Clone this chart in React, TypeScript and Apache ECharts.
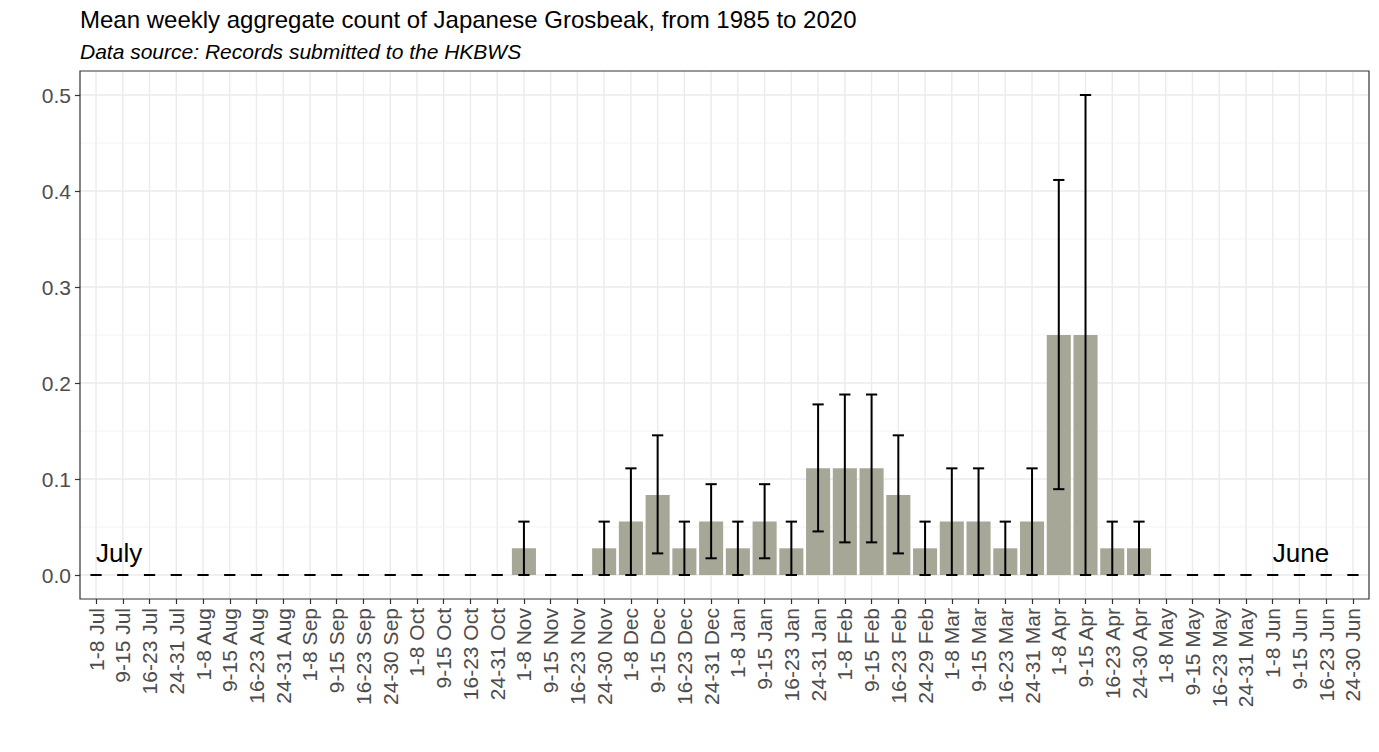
import React, { useEffect, useRef } from "react";
import * as echarts from "echarts";

const weeks = [
  "1-8 Jul", "9-15 Jul", "16-23 Jul", "24-31 Jul",
  "1-8 Aug", "9-15 Aug", "16-23 Aug", "24-31 Aug",
  "1-8 Sep", "9-15 Sep", "16-23 Sep", "24-30 Sep",
  "1-8 Oct", "9-15 Oct", "16-23 Oct", "24-31 Oct",
  "1-8 Nov", "9-15 Nov", "16-23 Nov", "24-30 Nov",
  "1-8 Dec", "9-15 Dec", "16-23 Dec", "24-31 Dec",
  "1-8 Jan", "9-15 Jan", "16-23 Jan", "24-31 Jan",
  "1-8 Feb", "9-15 Feb", "16-23 Feb", "24-29 Feb",
  "1-8 Mar", "9-15 Mar", "16-23 Mar", "24-31 Mar",
  "1-8 Apr", "9-15 Apr", "16-23 Apr", "24-30 Apr",
  "1-8 May", "9-15 May", "16-23 May", "24-31 May",
  "1-8 Jun", "9-15 Jun", "16-23 Jun", "24-30 Jun",
];

const means = [
  0, 0, 0, 0, 0, 0, 0, 0, 0, 0, 0, 0, 0, 0, 0, 0,
  0.0278, 0, 0, 0.0278,
  0.0556, 0.0833, 0.0278, 0.0556,
  0.0278, 0.0556, 0.0278, 0.1111,
  0.1111, 0.1111, 0.0833, 0.0278,
  0.0556, 0.0556, 0.0278, 0.0556,
  0.25, 0.25, 0.0278, 0.0278,
  0, 0, 0, 0, 0, 0, 0, 0,
];

const lower = [
  0, 0, 0, 0, 0, 0, 0, 0, 0, 0, 0, 0, 0, 0, 0, 0,
  0, 0, 0, 0,
  0, 0.0225, 0, 0.0174,
  0, 0.0174, 0, 0.0454,
  0.034, 0.034, 0.0225, 0,
  0, 0, 0, 0,
  0.0894, 0, 0, 0,
  0, 0, 0, 0, 0, 0, 0, 0,
];

const upper = [
  0, 0, 0, 0, 0, 0, 0, 0, 0, 0, 0, 0, 0, 0, 0, 0,
  0.0556, 0, 0, 0.0556,
  0.1111, 0.1455, 0.0556, 0.0946,
  0.0556, 0.0946, 0.0556, 0.1777,
  0.188, 0.188, 0.1455, 0.0556,
  0.1111, 0.1111, 0.0556, 0.1111,
  0.4115, 0.5, 0.0556, 0.0556,
  0, 0, 0, 0, 0, 0, 0, 0,
];

const yTicks = [0, 0.1, 0.2, 0.3, 0.4, 0.5];
const yMinor = [0.05, 0.15, 0.25, 0.35, 0.45];
const monthNotes = [
  { idx: 0, y: 0.023, text: "July" },
  { idx: 44, y: 0.023, text: "June" },
];

const TITLE = "Mean weekly aggregate count of Japanese Grosbeak, from 1985 to 2020";
const SUBTITLE = "Data source: Records submitted to the HKBWS";

const FONT = "'Liberation Sans', Arial, sans-serif";
const X_MIN = -0.6;
const X_MAX = weeks.length - 1 + 0.6;
const Y_MIN = -0.025;
const Y_MAX = 0.525;

export default function App() {
  const ref = useRef<HTMLDivElement>(null);

  useEffect(() => {
    const chart = echarts.init(ref.current!, null, { renderer: "svg" });
    const xIdx = weeks.map((_, i) => i);

    const gridData: number[][] = [
      ...xIdx.map((i) => [i, 0, 0]),
      ...yTicks.map((v) => [0, v, 1]),
      ...yMinor.map((v) => [0, v, 2]),
    ];

    const option: any = {
      animation: false,
      backgroundColor: "#ffffff",
      grid: { left: 80, top: 71, right: 10, bottom: 153, containLabel: false },
      graphic: [
        {
          type: "text",
          x: 80,
          y: 19.5,
          style: { text: TITLE, fontSize: 24, fontFamily: FONT, fill: "#000000", align: "left", verticalAlign: "middle" },
        },
        {
          type: "text",
          x: 80,
          y: 51.5,
          style: { text: SUBTITLE, fontSize: 21, fontStyle: "italic", fontFamily: FONT, fill: "#000000", align: "left", verticalAlign: "middle" },
        },
        {
          type: "rect",
          z: 100,
          shape: { x: 80, y: 71, width: 1289, height: 528 },
          style: { fill: "none", stroke: "#333333", lineWidth: 1.2 },
        },
      ],
      xAxis: {
        type: "value",
        min: X_MIN,
        max: X_MAX,
        axisLine: { show: false, onZero: false },
        splitLine: { show: false },
        axisTick: { show: true, customValues: xIdx, length: 5, lineStyle: { color: "#333333", width: 1.2 } },
        axisLabel: {
          customValues: xIdx,
          rotate: 90,
          margin: 9,
          fontSize: 21,
          fontFamily: FONT,
          color: "#4d4d4d",
          formatter: (v: number) => weeks[Math.round(v)] ?? "",
        },
      },
      yAxis: {
        type: "value",
        min: Y_MIN,
        max: Y_MAX,
        axisLine: { show: false, onZero: false },
        splitLine: { show: false },
        axisTick: { show: true, customValues: yTicks, length: 5, lineStyle: { color: "#333333", width: 1.2 } },
        axisLabel: {
          customValues: yTicks,
          margin: 9,
          fontSize: 21,
          fontFamily: FONT,
          color: "#4d4d4d",
          formatter: (v: number) => v.toFixed(1),
        },
      },
      series: [
        {
          type: "custom",
          name: "grid",
          silent: true,
          z: 1,
          data: gridData,
          renderItem: (params: any, api: any) => {
            const kind = api.value(2);
            if (kind === 0) {
              const x = api.value(0);
              const p1 = api.coord([x, Y_MIN]);
              const p2 = api.coord([x, Y_MAX]);
              return {
                type: "line",
                shape: { x1: p1[0], y1: p1[1], x2: p2[0], y2: p2[1] },
                style: { stroke: "#ebebeb", lineWidth: 1.4 },
              };
            }
            const y = api.value(1);
            const p1 = api.coord([X_MIN, y]);
            const p2 = api.coord([X_MAX, y]);
            return {
              type: "line",
              shape: { x1: p1[0], y1: p1[1], x2: p2[0], y2: p2[1] },
              style: { stroke: kind === 1 ? "#ebebeb" : "#f2f2f2", lineWidth: kind === 1 ? 1.4 : 0.9 },
            };
          },
        },
        {
          type: "custom",
          name: "bars",
          z: 2,
          data: means.map((m, i) => [i, m]),
          renderItem: (params: any, api: any) => {
            const x = api.value(0);
            const y = api.value(1);
            if (!(y > 0)) return null;
            const p0 = api.coord([x - 0.45, y]);
            const p1 = api.coord([x + 0.45, 0]);
            return {
              type: "rect",
              shape: { x: p0[0], y: p0[1], width: p1[0] - p0[0], height: p1[1] - p0[1] },
              style: { fill: "#a6a797" },
            };
          },
        },
        {
          type: "custom",
          name: "errors",
          z: 3,
          encode: { x: 0, y: [1, 2] },
          data: means.map((_, i) => [i, lower[i], upper[i]]),
          renderItem: (params: any, api: any) => {
            const x = api.value(0);
            const lo = api.value(1);
            const hi = api.value(2);
            const pl = api.coord([x, lo]);
            const ph = api.coord([x, hi]);
            const cl0 = api.coord([x - 0.21, lo]);
            const cl1 = api.coord([x + 0.21, lo]);
            const ch0 = api.coord([x - 0.21, hi]);
            const ch1 = api.coord([x + 0.21, hi]);
            const st = { stroke: "#000000", lineWidth: 2 };
            const children: any[] = [
              { type: "line", shape: { x1: cl0[0], y1: cl0[1], x2: cl1[0], y2: cl1[1] }, style: st },
            ];
            if (hi > lo) {
              children.push({ type: "line", shape: { x1: pl[0], y1: pl[1], x2: ph[0], y2: ph[1] }, style: st });
              children.push({ type: "line", shape: { x1: ch0[0], y1: ch0[1], x2: ch1[0], y2: ch1[1] }, style: st });
            }
            return { type: "group", children };
          },
        },
        {
          type: "custom",
          name: "notes",
          z: 4,
          silent: true,
          data: monthNotes.map((n) => [n.idx, n.y]),
          renderItem: (params: any, api: any) => {
            const p = api.coord([api.value(0), api.value(1)]);
            return {
              type: "text",
              x: p[0],
              y: p[1],
              style: {
                text: monthNotes[params.dataIndex].text,
                fontSize: 26,
                fontFamily: FONT,
                fill: "#000000",
                align: "left",
                verticalAlign: "middle",
              },
            };
          },
        },
      ],
    };

    chart.setOption(option);
    return () => chart.dispose();
  }, []);

  return (
    <div
      ref={ref}
      style={{ position: "fixed", left: 0, top: 0, width: 1379, height: 752, background: "#ffffff" }}
    />
  );
}
